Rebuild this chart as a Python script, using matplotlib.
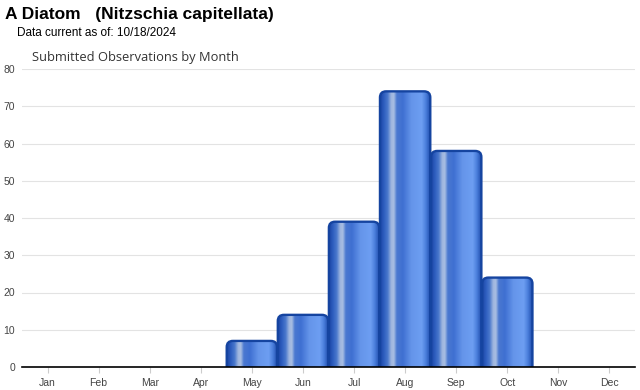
import numpy as np
import matplotlib
matplotlib.use("Agg")
import matplotlib.pyplot as plt
from matplotlib.patches import FancyBboxPatch
from matplotlib.colors import LinearSegmentedColormap

plt.rcParams['font.family'] = ['Liberation Sans', 'DejaVu Sans']

months = ["Jan", "Feb", "Mar", "Apr", "May", "Jun", "Jul", "Aug", "Sep", "Oct", "Nov", "Dec"]
counts = [0, 0, 0, 0, 7, 14, 39, 74, 58, 24, 0, 0]
yticks = [0, 10, 20, 30, 40, 50, 60, 70, 80]

fig = plt.figure(figsize=(6.4, 3.9), dpi=100)
ax = fig.add_axes([22/640, 1-367/390, 613/640, 298/390])
ax.set_xlim(-0.5, 11.5)
ax.set_ylim(0, 80)

grad = LinearSegmentedColormap.from_list("bar", [
    (0.0, "#1a45a4"), (0.08, "#2f5fc0"), (0.15, "#4a78cc"), (0.22, "#9fb6df"),
    (0.27, "#a9bee2"), (0.33, "#4a78d0"), (0.45, "#3f70d2"), (0.62, "#6595ea"),
    (0.82, "#6d9ef2"), (0.90, "#4b7fdc"), (1.0, "#1a47a8")])
img = grad(np.linspace(0, 1, 256))[None, :, :3]

w = 0.985
for i, v in enumerate(counts):
    if v <= 0:
        continue
    x0 = i - w/2
    patch = FancyBboxPatch((x0, -3), w, v + 3,
                           boxstyle="round,pad=0,rounding_size=0.12",
                           mutation_aspect=13.7,
                           facecolor="none", edgecolor="#1544a0", linewidth=1.7, zorder=4)
    ax.add_patch(patch)
    im = ax.imshow(img, extent=(x0, x0 + w, -3, v), aspect="auto", zorder=3,
                   interpolation="bilinear")
    im.set_clip_path(patch)

ax.set_xlim(-0.5, 11.5)
ax.set_ylim(0, 80)
ax.set_yticks(yticks)
ax.set_xticks(range(12))
ax.set_xticklabels(months)
ax.grid(axis="y", color="#e3e3e3", linewidth=0.8, zorder=0)
ax.set_axisbelow(True)
for s in ["top", "right", "left"]:
    ax.spines[s].set_visible(False)
ax.spines["bottom"].set_color("#000000")
ax.spines["bottom"].set_linewidth(1.2)
ax.spines["bottom"].set_zorder(5)
ax.tick_params(axis="y", length=0, labelsize=7.5, labelcolor="#444444", pad=5)
ax.tick_params(axis="x", length=4, color="#cccccc", labelsize=7.5, labelcolor="#444444", pad=4)

fig.text(5/640, 1-14/390, "A Diatom   (Nitzschia capitellata)", fontsize=12.5, fontweight="bold",
         va="center", ha="left", family="Liberation Sans")
fig.text(17/640, 1-32.5/390, "Data current as of: 10/18/2024", fontsize=8.5,
         va="center", ha="left", family="Liberation Sans")
fig.text(32/640, 1-58/390, "Submitted Observations by Month", fontsize=9.3, color="#333333",
         va="center", ha="left", family="Open Sans")

fig.savefig("out.png", dpi=100)
